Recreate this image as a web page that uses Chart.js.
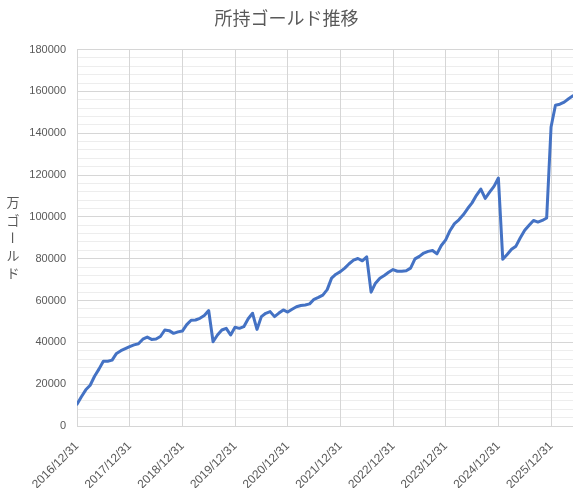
<!DOCTYPE html>
<html>
<head>
<meta charset="utf-8">
<script src="https://cdn.jsdelivr.net/npm/chart.js@4.4.1/dist/chart.umd.min.js"></script>
<style>
  html, body { margin: 0; padding: 0; background: #ffffff; }
  #wrap { width: 581px; height: 488px; }
</style>
</head>
<body>
<div id="wrap"><canvas id="c" width="581" height="488"></canvas></div>
<script>
// Chart texts
const chartTitle = '所持ゴールド推移';
const yAxisTitle = ['万', 'ゴ', 'ー', 'ル', 'ド'];

// X-axis tick labels (one per year, every 12 monthly points)
const yearLabels = ['2016/12/31', '2017/12/31', '2018/12/31', '2019/12/31', '2020/12/31',
                    '2021/12/31', '2022/12/31', '2023/12/31', '2024/12/31', '2025/12/31'];

// Monthly gold values (unit: 万ゴールド), starting 2016/12/31
const gold2017 = [10400, 14000, 17300, 19500, 23800, 27200, 31000, 31000, 31500, 34700, 36000, 37000];
const gold2018 = [38000, 38800, 39300, 41500, 42500, 41400, 41600, 42800, 45900, 45600, 44300, 45000];
const gold2019 = [45400, 48500, 50600, 50700, 51500, 52800, 55200, 40300, 43500, 45900, 46700, 43500];
const gold2020 = [47200, 46700, 47500, 51300, 53900, 46200, 52300, 53900, 54700, 52300, 54000, 55500];
const gold2021 = [54500, 55800, 57000, 57600, 57900, 58400, 60600, 61500, 62600, 65200, 70700, 72600];
const gold2022 = [73800, 75500, 77600, 79300, 80100, 79000, 80900, 64000, 68300, 70700, 72000, 73500];
const gold2023 = [74800, 74000, 74000, 74200, 75500, 79900, 81100, 82700, 83500, 83900, 82300, 86300];
const gold2024 = [89000, 93500, 96800, 98600, 101000, 104000, 106700, 110300, 113300, 108800, 111800, 114600];
const gold2025 = [118600, 79700, 82000, 84500, 86000, 90000, 93600, 96000, 98300, 97500, 98300, 99500];
const gold2026 = [143000, 153400, 153900, 154900, 156500, 157900];

const goldValues = [].concat(gold2017, gold2018, gold2019, gold2020, gold2021,
                             gold2022, gold2023, gold2024, gold2025, gold2026);

// Y-axis range
const yMin = 0, yMax = 180000, yStep = 20000, yMinorStep = 4000;

const TEXT = '#595959';
const GRID = '#d6d6d6';
const GRID_MINOR = '#ededed';

const verticalTitle = {
  id: 'verticalTitle',
  afterDraw(chart) {
    const ctx = chart.ctx;
    ctx.save();
    ctx.fillStyle = TEXT;
    ctx.font = '13px "Noto Sans CJK JP"';
    ctx.textAlign = 'center';
    ctx.textBaseline = 'middle';
    const cx = 13;
    const step = 17.7;
    const mid = (chart.chartArea.top + chart.chartArea.bottom) / 2;
    const start = mid - step * (yAxisTitle.length - 1) / 2;
    yAxisTitle.forEach((ch, i) => {
      const cy = start + i * step;
      if (ch === 'ー') {
        ctx.save();
        ctx.translate(cx, cy);
        ctx.rotate(Math.PI / 2);
        ctx.fillText(ch, 0, 0);
        ctx.restore();
      } else {
        ctx.fillText(ch, cx, cy);
      }
    });
    ctx.restore();
  }
};

const whiteBg = {
  id: 'whiteBg',
  beforeDraw(chart) {
    const ctx = chart.ctx;
    ctx.save();
    ctx.fillStyle = '#ffffff';
    ctx.fillRect(0, 0, chart.width, chart.height);
    ctx.restore();
  }
};

new Chart(document.getElementById('c'), {
  type: 'line',
  data: {
    datasets: [{
      data: goldValues.map((v, i) => ({ x: i, y: v })),
      borderColor: '#4472C4',
      borderWidth: 3,
      pointRadius: 0,
      tension: 0,
      borderJoinStyle: 'round',
      borderCapStyle: 'round',
      fill: false
    }]
  },
  options: {
    responsive: false,
    animation: false,
    devicePixelRatio: 1,
    layout: { padding: { left: 0, right: 8, top: 0, bottom: 0 } },
    plugins: {
      legend: { display: false },
      tooltip: { enabled: false },
      title: {
        display: true,
        text: chartTitle,
        color: TEXT,
        font: { family: '"Noto Sans CJK JP"', size: 18, weight: 'normal' },
        padding: { top: 7, bottom: 21 }
      }
    },
    scales: {
      yMinor: {
        type: 'linear',
        position: 'left',
        min: yMin, max: yMax,
        ticks: { display: false, stepSize: yMinorStep },
        border: { display: false },
        grid: {
          drawTicks: false,
          color: (c) => (c.tick && c.tick.value % yStep === 0) ? 'rgba(0,0,0,0)' : GRID_MINOR,
          lineWidth: 1
        },
        afterFit(scale) { scale.width = 0; }
      },
      x: {
        type: 'linear',
        min: 0,
        max: goldValues.length - 1,
        border: { display: false },
        grid: { drawTicks: false, color: GRID, lineWidth: 1 },
        afterBuildTicks(scale) {
          scale.ticks = yearLabels.map((_, i) => ({ value: i * 12 }));
        },
        ticks: {
          autoSkip: false,
          maxRotation: 45,
          minRotation: 45,
          padding: 13,
          color: TEXT,
          font: { family: '"Liberation Sans"', size: 12 },
          callback: (v) => yearLabels[Math.round(v / 12)]
        },
        afterFit(scale) { scale.height = 62; }
      },
      y: {
        type: 'linear',
        position: 'left',
        min: yMin, max: yMax,
        border: { display: false },
        grid: { drawTicks: false, color: GRID, lineWidth: 1 },
        ticks: {
          stepSize: yStep,
          padding: 11,
          color: TEXT,
          font: { family: '"Liberation Sans"', size: 11 },
          callback: (v) => String(v)
        },
        afterFit(scale) { scale.width = 77; }
      }
    }
  },
  plugins: [whiteBg, verticalTitle]
});
</script>
</body>
</html>
